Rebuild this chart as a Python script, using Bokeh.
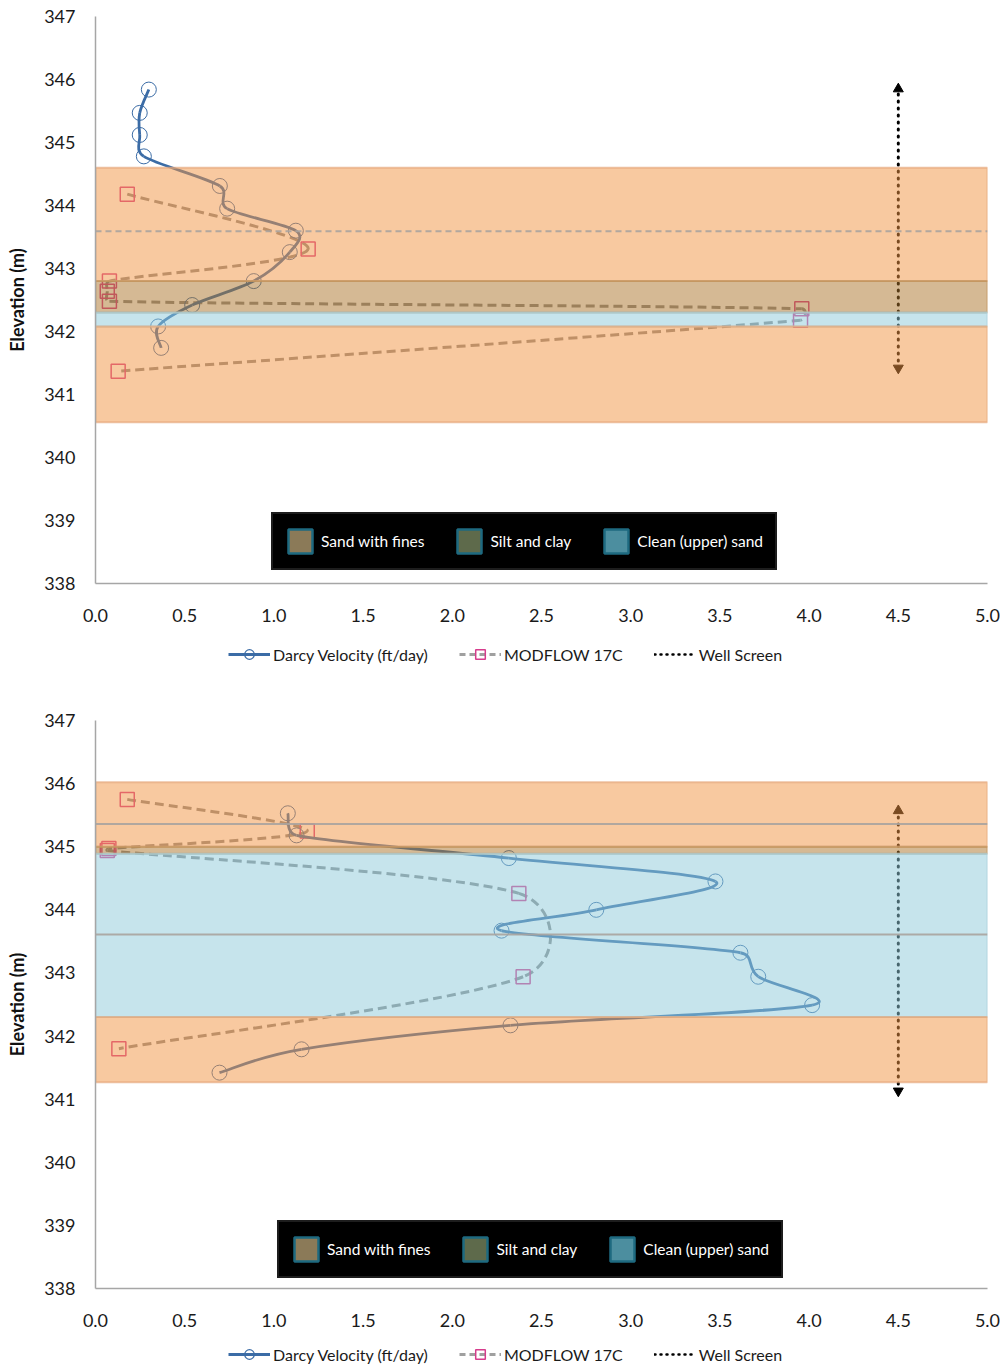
from math import hypot
from bokeh.plotting import figure
from bokeh.models import Legend, LegendItem, Range1d, FixedTicker, NumeralTickFormatter
from bokeh.layouts import column
from bokeh.embed import file_html
from bokeh.resources import INLINE

NAN = float("nan")

# ---------------- data ----------------
x_ticks = [0.0, 0.5, 1.0, 1.5, 2.0, 2.5, 3.0, 3.5, 4.0, 4.5, 5.0]
y_ticks = [338, 339, 340, 341, 342, 343, 344, 345, 346, 347]

# top chart
top_darcy_v = [0.299, 0.248, 0.248, 0.271, 0.697, 0.738, 1.123, 1.089, 0.887, 0.542, 0.351, 0.368]
top_darcy_z = [345.84, 345.47, 345.12, 344.78, 344.31, 343.95, 343.60, 343.26, 342.80, 342.42, 342.08, 341.74]
top_mod_v = [0.178, 1.192, 0.078, 0.066, 0.078, 3.959, 3.952, 0.127]
top_mod_z = [344.18, 343.31, 342.80, 342.64, 342.48, 342.36, 342.18, 341.37]
top_screen_x = [4.5]
top_screen_top = [345.85]
top_screen_bot = [341.42]
top_band_bottom = [342.80, 342.30, 342.08, 340.56]
top_band_top = [344.60, 342.80, 342.30, 342.08]
top_band_kind = ["sand", "silt", "clean", "sand"]
top_ref_lines = [343.59]

# bottom chart
bot_darcy_v = [1.078, 1.127, 2.317, 3.475, 2.807, 2.276, 3.615, 3.715, 4.017, 2.326, 1.155, 0.695]
bot_darcy_z = [345.53, 345.18, 344.82, 344.45, 344.00, 343.67, 343.32, 342.94, 342.49, 342.17, 341.79, 341.42]
bot_mod_v = [0.178, 1.187, 0.075, 0.066, 2.373, 2.397, 0.131]
bot_mod_z = [345.75, 345.25, 344.97, 344.94, 344.26, 342.94, 341.80]
bot_screen_x = [4.5]
bot_screen_top = [345.57]
bot_screen_bot = [341.13]
bot_band_bottom = [345.00, 344.89, 342.30, 341.27]
bot_band_top = [346.02, 345.00, 344.89, 342.30]
bot_band_kind = ["sand", "silt", "clean", "sand"]
bot_ref_lines = [345.36, 343.61]

legend_labels = ["Sand with fines", "Silt and clay", "Clean (upper) sand"]
series_labels = ["Darcy Velocity (ft/day)", "MODFLOW 17C", "Well Screen"]

# ---------------- style ----------------
FONT = "Lato"
BAND_FILL = {"sand": "#f19341", "silt": "#ab7329", "clean": "#8dc9d9"}
BAND_EDGE = {"sand": "#e6a87c", "silt": "#c2955f", "clean": "#a9d0dc"}
LEG_FILL = {"sand": "#8b7a58", "silt": "#5e6a4b", "clean": "#4c8e9f"}
DARCY = "#3b6ca6"
MOD_LINE = "#8c8c8c"
MOD_MARK = "#d63c8c"
KX, KY = 892 / 5.0, 567 / 9.0   # px per data unit (for smoothing geometry)
W = 1000


def smooth_segments(xs, ys):
    """Bezier control points (Excel-like smoothing) through the given points."""
    px = [x * KX for x in xs]
    py = [y * KY for y in ys]
    n = len(px)
    out = {k: [] for k in ("x0", "y0", "x1", "y1", "cx0", "cy0", "cx1", "cy1")}
    for i in range(n - 1):
        i0 = max(i - 1, 0)
        i3 = min(i + 2, n - 1)
        p0 = (px[i0], py[i0]); p1 = (px[i], py[i]); p2 = (px[i + 1], py[i + 1]); p3 = (px[i3], py[i3])
        d12 = hypot(p2[0] - p1[0], p2[1] - p1[1])
        d02 = hypot(p2[0] - p0[0], p2[1] - p0[1])
        d13 = hypot(p3[0] - p1[0], p3[1] - p1[1])
        f = 1 / 6 if (d02 == 0 or d02 / 6 < d12 / 2) else d12 / (2 * d02)
        g = 1 / 6 if (d13 == 0 or d13 / 6 < d12 / 2) else d12 / (2 * d13)
        c1 = (p1[0] + f * (p2[0] - p0[0]), p1[1] + f * (p2[1] - p0[1]))
        c2 = (p2[0] - g * (p3[0] - p1[0]), p2[1] - g * (p3[1] - p1[1]))
        out["x0"].append(p1[0] / KX); out["y0"].append(p1[1] / KY)
        out["x1"].append(p2[0] / KX); out["y1"].append(p2[1] / KY)
        out["cx0"].append(c1[0] / KX); out["cy0"].append(c1[1] / KY)
        out["cx1"].append(c2[0] / KX); out["cy1"].append(c2[1] / KY)
    return out


def make_chart(height, border_top, border_bottom, darcy_v, darcy_z, mod_v, mod_z,
               sx, s_top, s_bot, b_bot, b_top, b_kind, ref_lines, ref_dash, leg1_loc):
    p = figure(width=W, height=height, x_range=Range1d(0, 5), y_range=Range1d(338, 347),
               output_backend="svg", toolbar_location=None,
               min_border_left=95, min_border_right=13,
               min_border_top=border_top, min_border_bottom=border_bottom)
    p.outline_line_color = None
    p.grid.visible = False
    p.background_fill_color = "white"

    for ax in (p.xaxis, p.yaxis):
        ax.axis_line_color = "#a6a6a6"
        ax.axis_line_width = 1.5
        ax.major_tick_line_color = None
        ax.minor_tick_line_color = None
        ax.major_tick_out = 0
        ax.major_tick_in = 0
        ax.major_label_text_font = FONT
        ax.major_label_text_font_size = "18px"
        ax.major_label_text_color = "#1a1a1a"
    p.xaxis.ticker = FixedTicker(ticks=x_ticks)
    p.xaxis.formatter = NumeralTickFormatter(format="0.0")
    p.xaxis.major_label_standoff = 25
    p.yaxis.ticker = FixedTicker(ticks=y_ticks)
    p.yaxis.major_label_standoff = 20
    p.yaxis.axis_label = "Elevation (m)"
    p.yaxis.axis_label_text_font = FONT
    p.yaxis.axis_label_text_font_style = "bold"
    p.yaxis.axis_label_text_font_size = "18px"
    p.yaxis.axis_label_text_color = "#111111"
    p.yaxis.axis_label_standoff = 13

    # MODFLOW (dashed, squares)
    ms = smooth_segments(mod_v, mod_z)
    p.bezier(x0=ms["x0"], y0=ms["y0"], x1=ms["x1"], y1=ms["y1"],
             cx0=ms["cx0"], cy0=ms["cy0"], cx1=ms["cx1"], cy1=ms["cy1"],
             line_color=MOD_LINE, line_width=3, line_dash="9 5")
    p.scatter(mod_v, mod_z, marker="square", size=14, fill_color=None,
              line_color=MOD_MARK, line_width=1.5)

    # Darcy velocity (solid, circles)
    ds = smooth_segments(darcy_v, darcy_z)
    p.bezier(x0=ds["x0"], y0=ds["y0"], x1=ds["x1"], y1=ds["y1"],
             cx0=ds["cx0"], cy0=ds["cy0"], cx1=ds["cx1"], cy1=ds["cy1"],
             line_color=DARCY, line_width=2.8)
    p.scatter(darcy_v, darcy_z, marker="circle", size=15, fill_color=None,
              line_color=DARCY, line_width=1)

    # Well screen
    p.segment(x0=sx, y0=s_bot, x1=sx, y1=s_top, line_color="black", line_width=3,
              line_dash="1 6", line_cap="round")
    p.scatter(sx, s_top, marker="triangle", size=10, fill_color="black", line_color="black")
    p.scatter(sx, s_bot, marker="inverted_triangle", size=10, fill_color="black", line_color="black")

    # translucent layer bands (drawn over the curves)
    for lo, hi, k in zip(b_bot, b_top, b_kind):
        p.quad(left=[0], right=[5], bottom=[lo], top=[hi], fill_color=BAND_FILL[k],
               fill_alpha=0.5, line_color=BAND_EDGE[k], line_width=2, line_alpha=0.7)
    p.segment(x0=[0] * len(ref_lines), x1=[5] * len(ref_lines), y0=ref_lines, y1=ref_lines,
              line_color="#a9a39e", line_width=2, line_dash=ref_dash, line_alpha=0.9)

    # layer legend (black box)
    items = []
    for lab, k in zip(legend_labels, ["sand", "silt", "clean"]):
        r = p.quad(left=[NAN], right=[NAN], top=[NAN], bottom=[NAN], fill_color=LEG_FILL[k],
                   line_color="#1e6a80", line_width=2.5)
        items.append(LegendItem(label=lab, renderers=[r]))
    leg1 = Legend(items=items, orientation="horizontal", location=leg1_loc,
                  background_fill_color="black", background_fill_alpha=1,
                  border_line_color="#3a3a3a", border_line_width=2,
                  label_text_color="white", label_text_font=FONT, label_text_font_size="15.5px",
                  glyph_width=30, glyph_height=30, label_standoff=6, spacing=30,
                  padding=12, margin=0)
    p.add_layout(leg1, "center")
    return p


def make_series_legend(height, loc):
    """A strip holding the series legend that sits under each chart."""
    q = figure(width=W, height=height, x_range=Range1d(0, 1), y_range=Range1d(0, 1),
               output_backend="svg", toolbar_location=None, min_border=0)
    q.axis.visible = False
    q.grid.visible = False
    q.outline_line_color = None
    dl = q.line([NAN], [NAN], line_color=DARCY, line_width=2.8)
    dc = q.scatter([NAN], [NAN], marker="circle", size=12, fill_color=None,
                   line_color=DARCY, line_width=1.2)
    ml = q.line([NAN], [NAN], line_color="#a0a0a0", line_width=3, line_dash="6 4")
    mk = q.scatter([NAN], [NAN], marker="square", size=12, fill_color=None,
                   line_color=MOD_MARK, line_width=1.5)
    wl = q.line([NAN], [NAN], line_color="black", line_width=2.5, line_dash="1 5",
                line_cap="round")
    leg = Legend(items=[LegendItem(label=series_labels[0], renderers=[dl, dc]),
                        LegendItem(label=series_labels[1], renderers=[ml, mk]),
                        LegendItem(label=series_labels[2], renderers=[wl])],
                 orientation="horizontal", location=loc,
                 background_fill_alpha=0, border_line_color=None,
                 label_text_font=FONT, label_text_font_size="16px", label_text_color="#1a1a1a",
                 glyph_width=42, glyph_height=24, label_standoff=3, spacing=31,
                 padding=0, margin=0)
    q.add_layout(leg, "center")
    return q


p1 = make_chart(630, 16, 47, top_darcy_v, top_darcy_z, top_mod_v, top_mod_z,
                top_screen_x, top_screen_top, top_screen_bot,
                top_band_bottom, top_band_top, top_band_kind, top_ref_lines, "6 4",
                (176, 13))
l1 = make_series_legend(55, (133, 19))
p2 = make_chart(650, 35, 47, bot_darcy_v, bot_darcy_z, bot_mod_v, bot_mod_z,
                bot_screen_x, bot_screen_top, bot_screen_bot,
                bot_band_bottom, bot_band_top, bot_band_kind, bot_ref_lines, "solid",
                (182, 10))
l2 = make_series_legend(31, (133, 0))

layout = column(p1, l1, p2, l2, spacing=0)
open("out.html", "w").write(file_html(layout, INLINE))
